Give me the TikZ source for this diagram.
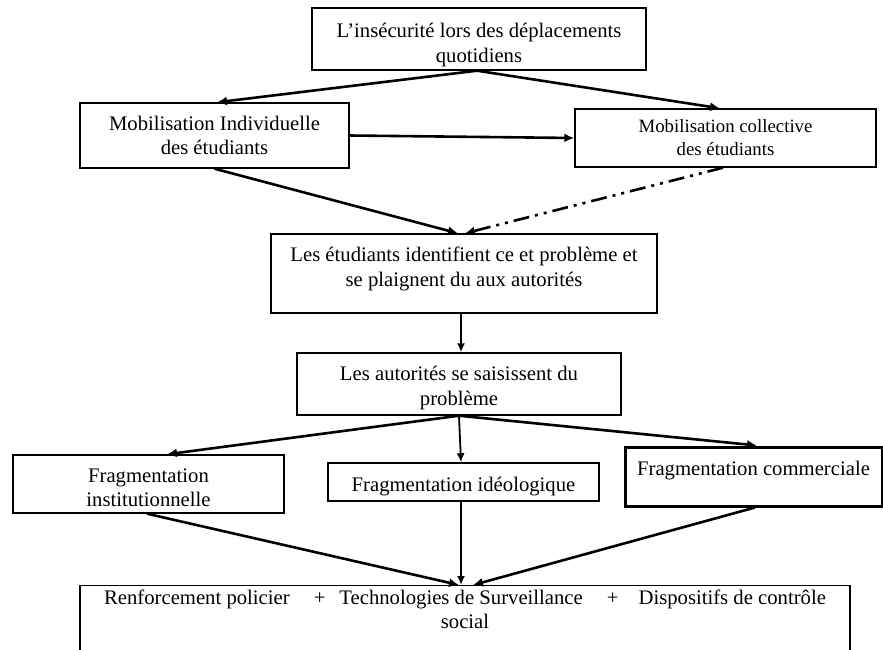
\documentclass[tikz,border=0pt]{standalone}
\usepackage{fontspec}
\setmainfont{Liberation Serif}
\usetikzlibrary{arrows.meta}
\begin{document}
\begin{tikzpicture}[x=1pt,y=-1pt,
  box/.style={draw, line width=1.4pt, align=center, inner sep=0pt,
    font=\fontsize{20.7pt}{24.5pt}\selectfont},
  arr/.style={line width=2.6pt, -{Latex[length=10pt,width=9pt]}},
  thinarr/.style={line width=1.8pt, -{Latex[length=9pt,width=8pt]}},
  dasharr/.style={arr, dash pattern=on 16pt off 6pt on 3pt off 6pt on 3pt off 6pt},
]
\useasboundingbox (0,0) rectangle (883,650);
\clip (0,0) rectangle (883,650);

\node[box, minimum width=334pt, minimum height=62pt, text height=51pt] (top) at (479,39)
  {L’insécurité lors des déplacements\\quotidiens};
\node[box, minimum width=269pt, minimum height=65pt] (mi) at (214.5,135.5)
  {Mobilisation Individuelle\\des étudiants};
\node[box, minimum width=301pt, minimum height=58pt,
  font=\fontsize{18.8pt}{23pt}\selectfont] (mc) at (725.5,138)
  {Mobilisation collective\\des étudiants};
\node[box, minimum width=386pt, minimum height=79pt, text depth=14pt] (e) at (464,273.5)
  {Les étudiants identifient ce et problème et\\se plaignent du aux autorités};
\node[box, minimum width=324pt, minimum height=62pt, text height=47pt] (a) at (459,384)
  {Les autorités se saisissent du\\problème};
\node[box, minimum width=271pt, minimum height=58pt, text height=46pt] (fi) at (148.5,484)
  {Fragmentation\\institutionnelle};
\node[box, minimum width=271pt, minimum height=38pt, text height=24pt] (fid) at (463.5,482)
  {Fragmentation idéologique};
\node[box, line width=3pt, minimum width=257pt, minimum height=59pt, text depth=16pt] (fc) at (753.5,476.5)
  {Fragmentation commerciale};
\node[box, anchor=north, minimum width=770pt, inner ysep=4pt, text depth=70pt] (bot) at (465,585)
  {Renforcement policier\hspace{24pt}+\hspace{14pt}Technologies de Surveillance\hspace{24pt}+\hspace{20pt}Dispositifs de contrôle\\social};

\draw[arr] ([xshift=-2pt]top.south) -- ([xshift=2.5pt]mi.north);
\draw[arr] ([xshift=-2pt]top.south) -- ([xshift=-5.5pt]mc.north);
\draw[arr] (mi.east) -- (mc.west);
\draw[arr] (mi.south) -- ([xshift=-6pt]e.north);
\draw[dasharr] ([xshift=-2.5pt]mc.south) -- ([xshift=1pt]e.north);
\draw[thinarr] ([xshift=-3pt]e.south) -- ([xshift=2pt]a.north);
\draw[arr] (a.south) -- ([xshift=18.5pt]fi.north);
\draw[thinarr] (a.south) -- ([xshift=-2.5pt]fid.north);
\draw[arr] (a.south) -- ([xshift=3.5pt]fc.north);
\draw[arr] ([xshift=-1.5pt]fi.south) -- ([xshift=-6pt]bot.north);
\draw[thinarr] ([xshift=-2.5pt]fid.south) -- ([xshift=-4pt]bot.north);
\draw[arr] ([xshift=1.5pt]fc.south) -- ([xshift=8pt]bot.north);
\end{tikzpicture}
\end{document}
